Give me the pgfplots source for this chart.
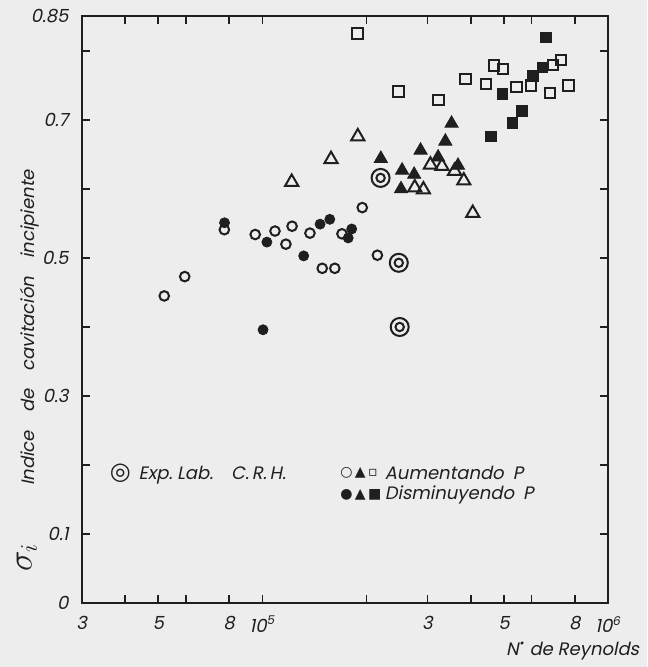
\documentclass[border=0pt]{standalone}
\usepackage{pgfplots}
\pgfplotsset{compat=1.18}
\usepackage{fontspec}
\usetikzlibrary{backgrounds}
\newfontfamily\lettering{Poppins}[FakeSlant=0.2]
\newfontfamily\sym{DejaVu Sans}
\definecolor{ink}{gray}{0.12}
\definecolor{paper}{gray}{0.93}

\begin{document}
\begin{tikzpicture}
\begin{axis}[
    scale only axis,
    width=263pt,
    height=293pt,
    xmode=log,
    xmin=3e4, xmax=1e6,
    ymin=0, ymax=0.85,
    axis line style={ink, line width=1pt},
    tick style={ink, line width=0.9pt},
    tick align=inside,
    major tick length=4pt,
    minor tick num=0,
    xtick={3e4,4e4,5e4,6e4,8e4,1e5,2e5,3e5,4e5,5e5,6e5,8e5,1e6},
    xticklabels={3,,5,,8,10\textsuperscript{5},,3,,5,,8,10\textsuperscript{6}},
    ytick={0,0.1,0.2,0.3,0.4,0.5,0.6,0.7,0.8,0.85},
    yticklabels={0,0.1,,0.3,,0.5,,0.7,,0.85},
    ticklabel style={font=\lettering\small, text=ink},
    xticklabel style={yshift=-3pt},
    yticklabel style={xshift=-3pt},
    clip=false,
]
% Exp. Lab. C.R.H. (concentric circles)
\addplot[only marks, mark=o, mark size=4.5pt, line width=1pt, ink] coordinates {
(219600,0.616) (247900,0.493) (249400,0.400)};
\addplot[only marks, mark=o, mark size=2.1pt, line width=1pt, ink] coordinates {
(219600,0.616) (247900,0.493) (249400,0.400)};
% aumentando P
\addplot[only marks, mark=o, mark size=2.4pt, line width=1pt, ink] coordinates {
(52000,0.445) (59600,0.473) (77600,0.541) (95300,0.534) (108700,0.539)
(121800,0.546) (116900,0.520) (137200,0.536) (148900,0.485) (161900,0.485)
(169800,0.535) (194400,0.573) (215000,0.504)};
\addplot[only marks, mark=triangle, mark size=3.8pt, line width=1pt, ink] coordinates {
(121500,0.610) (157900,0.643) (188700,0.676) (306000,0.635) (330500,0.633)
(275700,0.602) (292100,0.599) (359500,0.626) (382200,0.612) (405600,0.565)};
\addplot[only marks, mark=square, mark size=2.6pt, line width=1pt, ink] coordinates {
(188400,0.825) (247100,0.741) (323000,0.729) (387000,0.759) (443200,0.752)
(467000,0.779) (495700,0.774) (543300,0.748) (597600,0.750) (691500,0.780)
(731300,0.787) (677800,0.739) (768500,0.750)};
% disminuyendo P
\addplot[only marks, mark=*, mark size=2.5pt, ink, mark options={fill=ink}] coordinates {
(77700,0.551) (103000,0.523) (131600,0.503) (146800,0.549) (156600,0.556)
(181200,0.542) (177000,0.529) (100400,0.396)};
\addplot[only marks, mark=triangle*, mark size=3.8pt, ink, mark options={fill=ink}] coordinates {
(352300,0.695) (338000,0.669) (286600,0.656) (220000,0.644) (322100,0.646)
(253400,0.627) (274600,0.621) (251600,0.600) (367800,0.634)};
\addplot[only marks, mark=square*, mark size=2.6pt, ink, mark options={fill=ink}] coordinates {
(660300,0.820) (494800,0.738) (604800,0.764) (644000,0.776) (562000,0.713)
(527900,0.696) (458300,0.676)};

% legend
\node[anchor=west, text=ink, font=\lettering\small] at (rel axis cs:0.040,0.220)
  {{\sym\large ◎}\, Exp.\ Lab.\quad C.\,R.\,H.};
\node[anchor=west, text=ink, font=\sym\scriptsize] at (rel axis cs:0.478,0.222) {○\,▲\,▫};
\node[anchor=west, text=ink, font=\sym\scriptsize] at (rel axis cs:0.478,0.184) {●\,▲\,■};
\node[anchor=west, text=ink, font=\lettering\small, inner sep=0pt] at (rel axis cs:0.575,0.222) {Aumentando\enspace P};
\node[anchor=west, text=ink, font=\lettering\small, inner sep=0pt] at (rel axis cs:0.575,0.184) {Disminuyendo\enspace P};

% axis labels
\node[anchor=east, text=ink, font=\lettering\small] at (rel axis cs:1.072,-0.082) {N\textsuperscript{\textbullet} de Reynolds};
\node[rotate=90, text=ink, font=\lettering\small] at (rel axis cs:-0.098,0.469) {Indice\quad de\quad cavitación\quad incipiente};
\node[rotate=90, text=ink, font=\LARGE, inner sep=1pt] at (rel axis cs:-0.104,0.078) {$\sigma_{i}$};

\coordinate (bbl) at (rel axis cs:-0.155,-0.109);
\coordinate (btr) at (rel axis cs:1.074,1.028);
\end{axis}
\begin{pgfonlayer}{background}
\fill[paper] (bbl) rectangle (btr);
\end{pgfonlayer}
\end{tikzpicture}
\end{document}
